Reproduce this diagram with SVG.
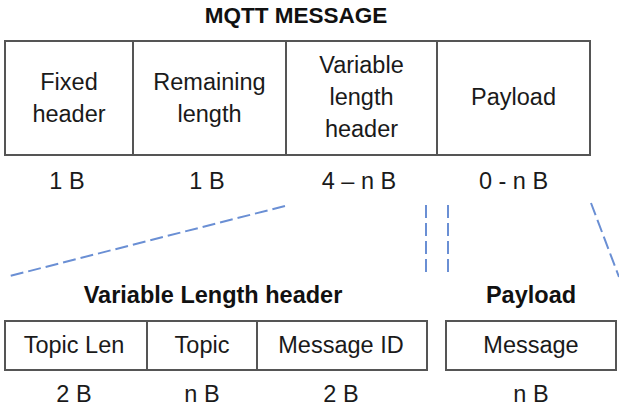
<svg xmlns="http://www.w3.org/2000/svg" width="619" height="410" viewBox="0 0 619 410">
<style>
.box{fill:#fff;stroke:#555;stroke-width:2}
.div{stroke:#555;stroke-width:2}
.t{font-family:"Liberation Sans",Arial,sans-serif;font-size:23.5px;fill:#1a1a1a;text-anchor:middle}
.b{font-family:"Liberation Sans",Arial,sans-serif;font-weight:bold;fill:#111;text-anchor:middle}
.dash{stroke:#6a8fd4;stroke-width:2;stroke-dasharray:13 5;fill:none}
</style>
<rect width="619" height="410" fill="#fff"/>
<text class="b" x="296" y="23" font-size="22.5">MQTT MESSAGE</text>
<g id="fixed-header">
<rect class="box" x="5" y="41" width="128" height="114"/>
<text class="t" x="69" y="90">Fixed</text>
<text class="t" x="69" y="122">header</text>
<text class="t" x="67" y="189">1 B</text>
</g>
<g id="remaining-length">
<rect class="box" x="133" y="41" width="153" height="114"/>
<text class="t" x="209.5" y="90">Remaining</text>
<text class="t" x="209.5" y="122">length</text>
<text class="t" x="207" y="189">1 B</text>
</g>
<g id="variable-length-header">
<rect class="box" x="286" y="41" width="151" height="114"/>
<text class="t" x="361.5" y="73">Variable</text>
<text class="t" x="361.5" y="105">length</text>
<text class="t" x="361.5" y="137">header</text>
<text class="t" x="359" y="189">4 – n B</text>
</g>
<g id="payload">
<rect class="box" x="437" y="41" width="153" height="114"/>
<text class="t" x="513.5" y="105">Payload</text>
<text class="t" x="513.5" y="189">0 - n B</text>
</g>
<g id="connectors">
<line class="dash" x1="285" y1="206" x2="6" y2="277"/>
<line class="dash" x1="426" y1="205" x2="426" y2="277"/>
<line class="dash" x1="448" y1="205" x2="448" y2="277"/>
<line class="dash" x1="591" y1="203" x2="619" y2="277"/>
</g>
<text class="b" x="213" y="303" font-size="23.5">Variable Length header</text>
<g id="topic-len">
<rect class="box" x="5" y="321" width="142" height="49"/>
<text class="t" x="74" y="353">Topic Len</text>
<text class="t" x="74" y="402">2 B</text>
</g>
<g id="topic">
<rect class="box" x="147" y="321" width="110" height="49"/>
<text class="t" x="202" y="353">Topic</text>
<text class="t" x="202" y="402">n B</text>
</g>
<g id="message-id">
<rect class="box" x="257" y="321" width="170" height="49"/>
<text class="t" x="341" y="353">Message ID</text>
<text class="t" x="341" y="402">2 B</text>
</g>
<text class="b" x="531" y="303" font-size="23.5">Payload</text>
<g id="message">
<rect class="box" x="446" y="321" width="170" height="49"/>
<text class="t" x="531" y="353">Message</text>
<text class="t" x="531" y="402">n B</text>
</g>
</svg>
